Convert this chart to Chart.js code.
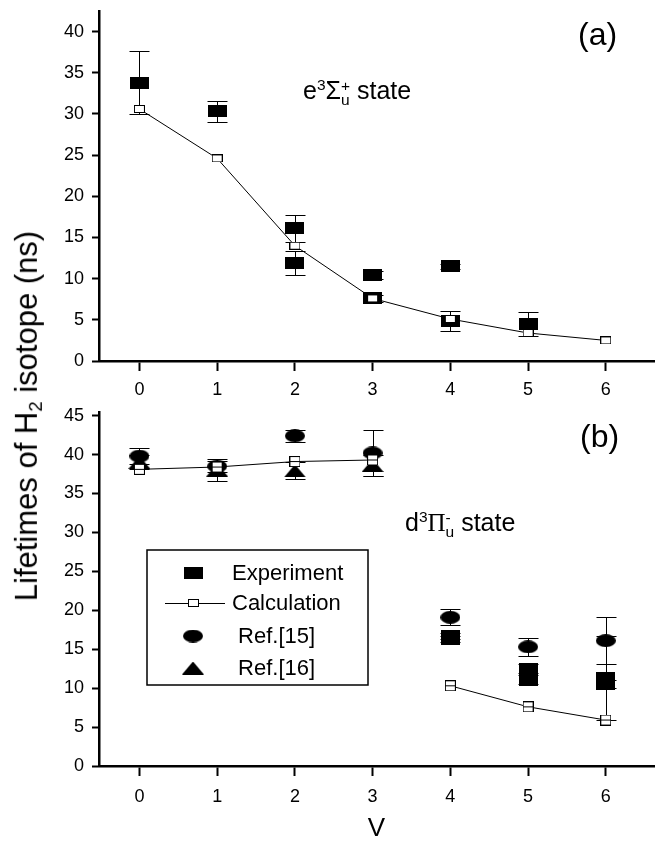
<!DOCTYPE html>
<html>
<head>
<meta charset="utf-8">
<script src="https://cdn.jsdelivr.net/npm/chart.js@4.4.1/dist/chart.umd.min.js"></script>
<style>
  body { margin: 0; background: #fff; width: 665px; height: 846px; position: relative; overflow: hidden;
         font-family: "Liberation Sans", Arial, sans-serif; color: #000; }
  canvas { position: absolute; left: 0; }
  #chartA { top: 0; }
  #chartB { top: 390px; }
  .lbl { position: absolute; white-space: nowrap; line-height: 1; }
  .stk { display: inline-block; font-size: 0.62em; line-height: 0.95; vertical-align: -0.45em; text-align: left; }
  #ytitle { left: 28px; top: 416px; font-size: 31px; transform: translate(-50%, -50%) rotate(-90deg); }
  #ytitle sub { font-size: 0.6em; vertical-align: -0.25em; }
  .state { font-size: 25px; }
  .state sup { font-size: 0.62em; vertical-align: 0.55em; }
  .panel { font-size: 32px; }
</style>
</head>
<body>
<canvas id="chartA" width="665" height="420" style="width:665px;height:420px"></canvas>
<canvas id="chartB" width="665" height="456" style="width:665px;height:456px"></canvas>

<div class="lbl" id="ytitle">Lifetimes of H<sub>2</sub> isotope (ns)</div>
<div class="lbl panel" style="left:578px;top:18px">(a)</div>
<div class="lbl panel" style="left:580px;top:420px">(b)</div>
<div class="lbl state" style="left:303px;top:77px">e<sup>3</sup>Σ<span class="stk">+<br>u</span> state</div>
<div class="lbl state" style="left:405px;top:509px">d<sup>3</sup><span style="font-family:'Liberation Serif',serif">Π</span><span class="stk">-<br>u</span> state</div>

<script>
// valores
const vTicks = [0, 1, 2, 3, 4, 5, 6];
const yTicksA = [0, 5, 10, 15, 20, 25, 30, 35, 40];
const yTicksB = [0, 5, 10, 15, 20, 25, 30, 35, 40, 45];

// (a) estado e3Σu+
const calcA = [30.6, 24.6, 14.0, 7.6, 5.1, 3.4, 2.5];
const expAv = [0, 1, 2, 2, 3, 3, 4, 4, 5];
const expA = [33.8, 30.3, 16.1, 11.9, 10.4, 7.6, 11.5, 4.9, 4.45];
const expAerr = [3.8, 1.3, 1.6, 1.5, 0.5, 0.4, 0.3, 1.2, 1.45];

// (b) estado d3Πu-  (la línea de cálculo se corta entre v=3 y v=4)
const calcB = [38.1, 38.4, 39.1, 39.3, 10.3, 7.6, 5.9];
const calcBbreak = 3;
const expBv = [4, 4, 5, 5, 6, 6];
const expB = [16.7, 16.3, 12.5, 11.1, 11.3, 10.5];
const expBerr = [0.4, 0.4, 0.6, 0.6, 5.4, 0.5];
const ref15 = [39.8, 38.5, 42.4, 40.2, 19.1, 15.3, 16.1];
const ref15err = [1.0, 0.7, 0.8, 3.0, 1.0, 1.2, 3.0];
const ref16v = [0, 1, 2, 3];
const ref16 = [39.0, 38.0, 37.9, 38.6];
const ref16err = [0.9, 1.4, 1.1, 1.4];

const legendLabels = ['Experiment', 'Calculation', ' Ref.[15]', ' Ref.[16]'];

const FONT = '"Liberation Sans", Arial, sans-serif';
Chart.defaults.font.family = FONT;
Chart.defaults.color = '#000';

// marcadores dibujados en un canvas pequeño
function marker(kind, w, h) {
  const c = document.createElement('canvas');
  c.width = w; c.height = h;
  const g = c.getContext('2d');
  g.fillStyle = '#000'; g.strokeStyle = '#000'; g.lineWidth = 1;
  if (kind === 'rect') {
    g.fillRect(0, 0, w, h);
  } else if (kind === 'open' || kind === 'openLine') {
    g.fillStyle = '#fff';
    g.fillRect(0, 0, w, h);
    g.strokeRect(0.5, 0.5, w - 1, h - 1);
    if (kind === 'openLine') {
      g.beginPath(); g.moveTo(0, Math.floor(h / 2) + 0.5); g.lineTo(w, Math.floor(h / 2) + 0.5); g.stroke();
    }
  } else if (kind === 'ellipse') {
    g.beginPath(); g.ellipse(w / 2, h / 2, w / 2, h / 2, 0, 0, Math.PI * 2); g.fill();
  } else if (kind === 'tri') {
    g.beginPath(); g.moveTo(w / 2, 0); g.lineTo(w, h); g.lineTo(0, h); g.closePath(); g.fill();
  }
  return c;
}
const mExp = marker('rect', 19, 12);
const mCalcA = marker('open', 11, 8);
const mCalcB = marker('openLine', 11, 11);
const mRef15 = marker('ellipse', 20, 13);
const mRef16 = marker('tri', 22, 13);

function pts(xs, ys, errs) {
  return ys.map((y, i) => ({ x: xs[i], y: y, err: errs ? errs[i] : 0 }));
}

// barras de error
const errorBars = {
  id: 'errorBars',
  beforeDatasetsDraw(chart) {
    const ctx = chart.ctx;
    const y = chart.scales.y;
    ctx.save();
    ctx.strokeStyle = '#000';
    ctx.lineWidth = 1;
    chart.data.datasets.forEach((ds, i) => {
      const meta = chart.getDatasetMeta(i);
      meta.data.forEach((p, j) => {
        const e = ds.data[j].err;
        if (!e) return;
        const x = Math.round(p.x) + 0.5;
        const t = Math.round(y.getPixelForValue(ds.data[j].y + e)) + 0.5;
        const b = Math.round(y.getPixelForValue(ds.data[j].y - e)) + 0.5;
        ctx.beginPath();
        ctx.moveTo(x, t); ctx.lineTo(x, b);
        ctx.moveTo(x - 10, t); ctx.lineTo(x + 10, t);
        ctx.moveTo(x - 10, b); ctx.lineTo(x + 10, b);
        ctx.stroke();
      });
    });
    ctx.restore();
  }
};

// leyenda dentro del panel (b)
const boxLegend = {
  id: 'boxLegend',
  afterDraw(chart) {
    const ctx = chart.ctx;
    const off = 390;
    ctx.save();
    ctx.strokeStyle = '#000';
    ctx.lineWidth = 1.5;
    ctx.strokeRect(147, 550 - off, 221, 135);
    const rows = [573, 603, 636, 668];
    const marks = [mExp, null, mRef15, mRef16];
    rows.forEach((ry, i) => {
      const y = ry - off;
      if (i === 1) {
        ctx.lineWidth = 1;
        ctx.beginPath(); ctx.moveTo(165, y + 0.5); ctx.lineTo(225, y + 0.5); ctx.stroke();
        ctx.drawImage(mCalcA, 188, y - 4);
      } else {
        const m = marks[i];
        ctx.drawImage(m, 193 - m.width / 2, y - m.height / 2);
      }
      ctx.fillStyle = '#000';
      ctx.font = '22px ' + FONT;
      ctx.textBaseline = 'middle';
      ctx.fillText(legendLabels[i], 232, y + 1);
    });
    ctx.restore();
  }
};

function panelOptions(yMax, yTicks, topPad, xHeight, tickPad, withTitle) {
  const minors = yTicks.map(v => v + 2.5).filter(v => v <= yMax);
  return {
    responsive: false,
    animation: false,
    layout: { padding: { top: topPad, left: 0, right: 0, bottom: 0 } },
    plugins: { legend: { display: false }, tooltip: { enabled: false } },
    scales: {
      x: {
        type: 'linear', min: -0.52, max: 6.62,
        afterBuildTicks: s => { s.ticks = vTicks.map(v => ({ value: v })); },
        afterFit: s => { s.height = xHeight; s.paddingLeft = 0; s.paddingRight = 0; },
        grid: { drawOnChartArea: false, tickLength: 10, tickColor: '#000', tickWidth: 2 },
        border: { color: '#000', width: 2.5 },
        ticks: { color: '#000', font: { size: 18 }, padding: tickPad, maxRotation: 0 },
        title: withTitle ? { display: true, text: 'V', color: '#000', font: { size: 26 }, padding: { top: 0, bottom: 2 } } : { display: false }
      },
      y: {
        min: 0, max: yMax,
        afterBuildTicks: s => { s.ticks = yTicks.concat(minors).sort((a, b) => a - b).map(v => ({ value: v })); },
        afterFit: s => { s.width = 99; s.paddingTop = 0; s.paddingBottom = 0; },
        grid: { drawOnChartArea: false, tickLength: 7, tickColor: '#000', tickWidth: 2 },
        border: { color: '#000', width: 2.5 },
        ticks: {
          color: '#000', font: { size: 18 }, padding: 8,
          callback: v => (yTicks.includes(v) ? String(v) : '')
        }
      }
    }
  };
}

document.addEventListener('DOMContentLoaded', function () {
  // Panel (a)
  new Chart(document.getElementById('chartA'), {
    type: 'scatter',
    data: {
      datasets: [
        { label: 'Calculation', data: pts(vTicks, calcA), showLine: true, borderColor: '#000', borderWidth: 1,
          pointStyle: mCalcA, pointRadius: 6 },
        { label: 'Experiment', data: pts(expAv, expA, expAerr), pointStyle: mExp, pointRadius: 10 }
      ]
    },
    options: panelOptions(42.5, yTicksA, 6, 59, 8, false),
    plugins: [errorBars]
  });

  // Panel (b)
  new Chart(document.getElementById('chartB'), {
    type: 'scatter',
    data: {
      datasets: [
        { label: 'Calculation', data: pts(vTicks, calcB), showLine: true, borderColor: '#000', borderWidth: 1,
          pointStyle: mCalcB, pointRadius: 6,
          segment: { borderColor: c => (c.p0DataIndex === calcBbreak ? 'rgba(0,0,0,0)' : '#000') } },
        { label: 'Ref.[15]', data: pts(vTicks, ref15, ref15err), pointStyle: mRef15, pointRadius: 10 },
        { label: 'Ref.[16]', data: pts(ref16v, ref16, ref16err), pointStyle: mRef16, pointRadius: 10 },
        { label: 'Experiment', data: pts(expBv, expB, expBerr), pointStyle: mExp, pointRadius: 10 }
      ]
    },
    options: panelOptions(45.4, yTicksB, 22.5, 80, 10, true),
    plugins: [errorBars, boxLegend]
  });
});
</script>
</body>
</html>
